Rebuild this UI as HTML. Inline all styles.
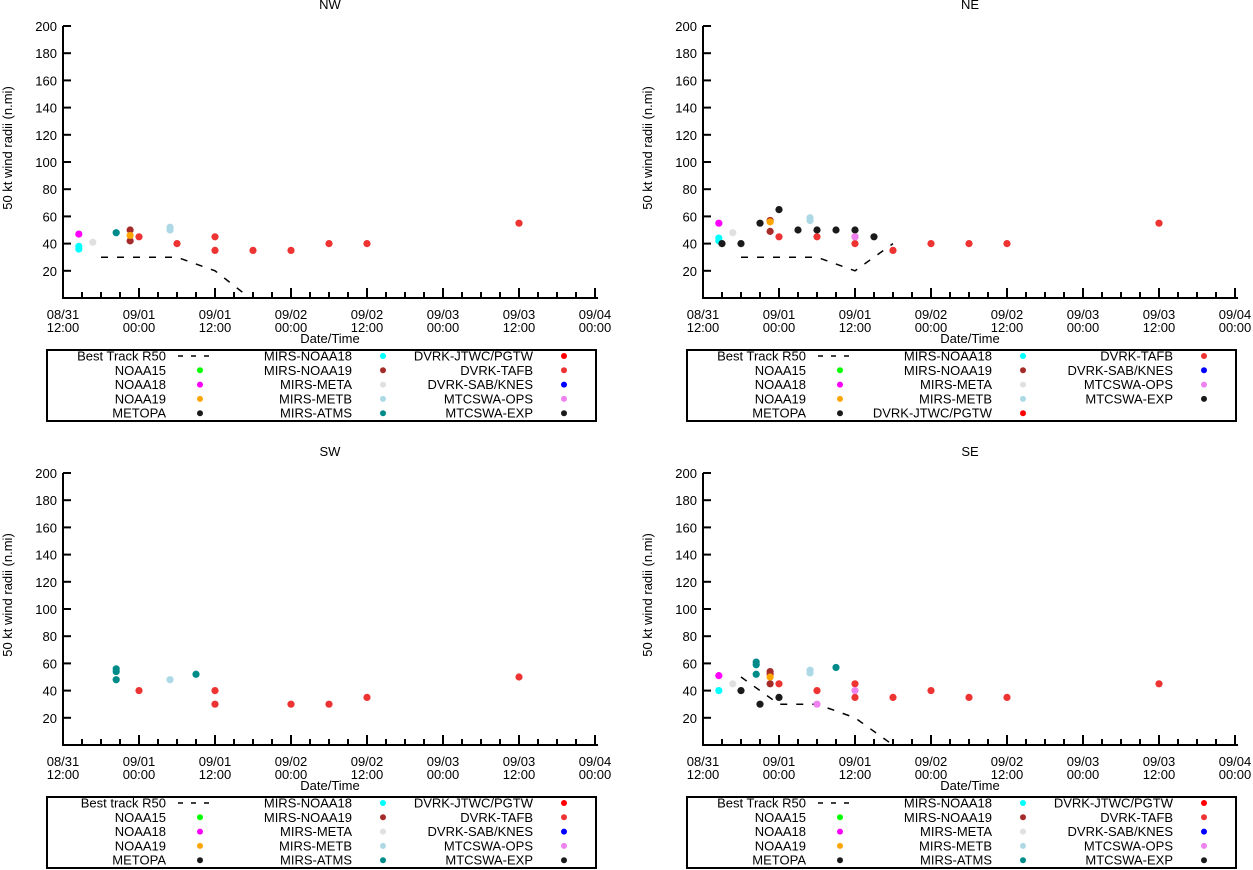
<!DOCTYPE html>
<html><head><meta charset="utf-8"><style>
html,body{margin:0;padding:0;background:#fff;}
svg{display:block;font-family:"Liberation Sans",sans-serif;}
</style></head><body>
<svg id="chart" width="1253" height="870" viewBox="0 0 1253 870"></svg>
<script>
// ---- data (hours since 08/31 12:00, radius n.mi) ----
const xTickLabels = [['08/31','12:00'],['09/01','00:00'],['09/01','12:00'],['09/02','00:00'],['09/02','12:00'],['09/03','00:00'],['09/03','12:00'],['09/04','00:00']];
const yTicks = [20,40,60,80,100,120,140,160,180,200];

const nwSeries = ['NOAA18','MIRS-NOAA18','MIRS-META','MIRS-ATMS','MIRS-NOAA19','NOAA19','MIRS-METB','DVRK-TAFB'];
const nwHours  = [[2.5],[2.5,2.5],[4.7],[8.4],[10.6,10.6],[10.6],[16.9,16.9],[12,18,24,24,30,36,42,48,72]];
const nwValues = [[47],[36,38],[41],[48],[50,42],[46],[52,50],[45,40,45,35,35,35,40,40,55]];
const nwBestHours = [6,18,24,29.5];
const nwBestValues = [30,30,20,0];

const neSeries = ['NOAA18','MIRS-NOAA18','MIRS-META','METOPA','MIRS-NOAA19','NOAA19','MIRS-METB','DVRK-TAFB','MTCSWA-OPS'];
const neHours  = [[2.5],[2.5,2.5],[4.7],[3,6,9,12,15,18,21,24,27],[10.6,10.6],[10.6],[16.9,16.9],[12,18,24,24,30,36,42,48,72],[24]];
const neValues = [[55],[44,42],[48],[40,40,55,65,50,50,50,50,45],[57,49],[56],[59,57],[45,45,45,40,35,40,40,40,55],[45]];
const neBestHours = [6,18,24,30];
const neBestValues = [30,30,20,40];

const swSeries = ['MIRS-ATMS','MIRS-METB','DVRK-TAFB'];
const swHours  = [[8.4,8.4,8.4,21],[16.9],[12,24,24,36,42,48,72]];
const swValues = [[56,54,48,52],[48],[40,40,30,30,30,35,50]];

const seSeries = ['NOAA18','MIRS-NOAA18','MIRS-META','METOPA','MIRS-ATMS','MIRS-NOAA19','NOAA19','MIRS-METB','DVRK-TAFB','MTCSWA-OPS'];
const seHours  = [[2.5],[2.5],[4.7],[6,9,12],[8.4,8.4,8.4,21],[10.6,10.6,10.6],[10.6],[16.9,16.9],[12,18,24,24,30,36,42,48,72],[18,24]];
const seValues = [[51],[40],[45],[40,30,35],[61,59,52,57],[54,52,45],[50],[55,53],[45,40,45,35,35,40,35,35,45],[30,40]];
const seBestHours = [6,12,18,24,30];
const seBestValues = [50,30,30,20,0];

const colors = {'NOAA15':'#00ff00','NOAA18':'#ff00ff','NOAA19':'#ffa500','METOPA':'#1a1a1a',
 'MIRS-NOAA18':'#00ffff','MIRS-NOAA19':'#a52a2a','MIRS-META':'#e0e0e0','MIRS-METB':'#add8e6','MIRS-ATMS':'#008b8b',
 'DVRK-JTWC/PGTW':'#ff0000','DVRK-TAFB':'#ee3333','DVRK-SAB/KNES':'#0000ff','MTCSWA-OPS':'#ee82ee','MTCSWA-EXP':'#1a1a1a'};

const legendStd = [['Best Track R50','NOAA15','NOAA18','NOAA19','METOPA'],['MIRS-NOAA18','MIRS-NOAA19','MIRS-META','MIRS-METB','MIRS-ATMS'],['DVRK-JTWC/PGTW','DVRK-TAFB','DVRK-SAB/KNES','MTCSWA-OPS','MTCSWA-EXP']];
const legendNE = [['Best Track R50','NOAA15','NOAA18','NOAA19','METOPA'],['MIRS-NOAA18','MIRS-NOAA19','MIRS-META','MIRS-METB','DVRK-JTWC/PGTW'],['DVRK-TAFB','DVRK-SAB/KNES','MTCSWA-OPS','MTCSWA-EXP']];
const legendSW = [['Best track R50','NOAA15','NOAA18','NOAA19','METOPA'],['MIRS-NOAA18','MIRS-NOAA19','MIRS-META','MIRS-METB','MIRS-ATMS'],['DVRK-JTWC/PGTW','DVRK-TAFB','DVRK-SAB/KNES','MTCSWA-OPS','MTCSWA-EXP']];

const NS='http://www.w3.org/2000/svg';
const svg=document.getElementById('chart');
function mk(tag,attrs,parent,text){const e=document.createElementNS(NS,tag);for(const k in attrs)e.setAttribute(k,attrs[k]);if(text!==undefined)e.textContent=text;(parent||svg).appendChild(e);return e;}

function panel(name,ox,oy,series,hours,values,bH,bV,legend){
  const g=mk('g',{});
  
  
  const left=ox, bottom=oy, top=oy-272;
  const xs=h=>left+h*76/12;
  const ys=v=>bottom-v*(272/200);
  const t=mk('text',{x:left+267,y:top-17,'text-anchor':'middle','font-size':13},g,name);
  
  
  const yl=mk('text',{transform:`translate(${left-51},${bottom-150}) rotate(-90)`,'text-anchor':'middle','font-size':13},g,'50 kt wind radii (n.mi)');
  
  
  for(const v of yTicks){
    const y=ys(v);
    mk('line',{x1:left,x2:left+8,y1:y,y2:y,stroke:'#000','stroke-width':2},g);
    const tl=mk('text',{x:left-6,y:y+5,'text-anchor':'end','font-size':13},g,String(v));
    
    
  }
  for(let h=0;h<=84;h+=3){
    const x=xs(h), major=h%12===0;
    mk('line',{x1:x,x2:x,y1:bottom,y2:bottom-(major?10:6),stroke:'#000','stroke-width':2},g);
  }
  xTickLabels.forEach((l,i)=>{
    const x=xs(i*12);
    const a=mk('text',{x:x,y:bottom+21,'text-anchor':'middle','font-size':13},g,l[0]);
    
    
    const b=mk('text',{x:x,y:bottom+34,'text-anchor':'middle','font-size':13},g,l[1]);
    
    
  });
  const xl=mk('text',{x:left+267,y:bottom+45,'text-anchor':'middle','font-size':13},g,'Date/Time');
  
  
  mk('line',{x1:left,x2:left,y1:top,y2:bottom+1,stroke:'#000','stroke-width':2},g);
  mk('line',{x1:left-1,x2:left+535,y1:bottom,y2:bottom,stroke:'#000','stroke-width':2},g);
  if(bH){
    const pts=bH.map((h,i)=>xs(h)+','+ys(bV[i])).join(' ');
    const pl=mk('polyline',{points:pts,fill:'none',stroke:'#000','stroke-width':1.5,'stroke-dasharray':'7,9'},g);
    
    
  }
  series.forEach((s,si)=>{
    hours[si].forEach((h,j)=>{
      const c=mk('circle',{cx:xs(h),cy:ys(values[si][j]),r:3.6,fill:colors[s]},g);
      
      
    });
  });
  // legend
  const ly=bottom+52;
  const lg=mk('g',{},g);
  
  
  mk('rect',{x:left-16,y:ly,width:549,height:71,fill:'none',stroke:'#000','stroke-width':2},lg);
  const textEnd=[left+103,left+289,left+470], markX=[left+137,left+320,left+501];
  legend.forEach((col,ci)=>{
    col.forEach((lab,ri)=>{
      const y=ly+6+ri*14.3;
      const tx=mk('text',{x:textEnd[ci],y:y+4.5,'text-anchor':'end','font-size':13},lg,lab);
      
      
      if(/best track/i.test(lab)) mk('line',{x1:left+115,x2:left+152,y1:y,y2:y,stroke:'#000','stroke-width':1.5,'stroke-dasharray':'5,8'},lg);
      else mk('circle',{cx:markX[ci],cy:y,r:3,fill:colors[lab]},lg);
    });
  });
}
panel('NW',63,298,nwSeries,nwHours,nwValues,nwBestHours,nwBestValues,legendStd);
panel('NE',703,298,neSeries,neHours,neValues,neBestHours,neBestValues,legendNE);
panel('SW',63,745,swSeries,swHours,swValues,null,null,legendSW);
panel('SE',703,745,seSeries,seHours,seValues,seBestHours,seBestValues,legendStd);
</script>
</body></html>
